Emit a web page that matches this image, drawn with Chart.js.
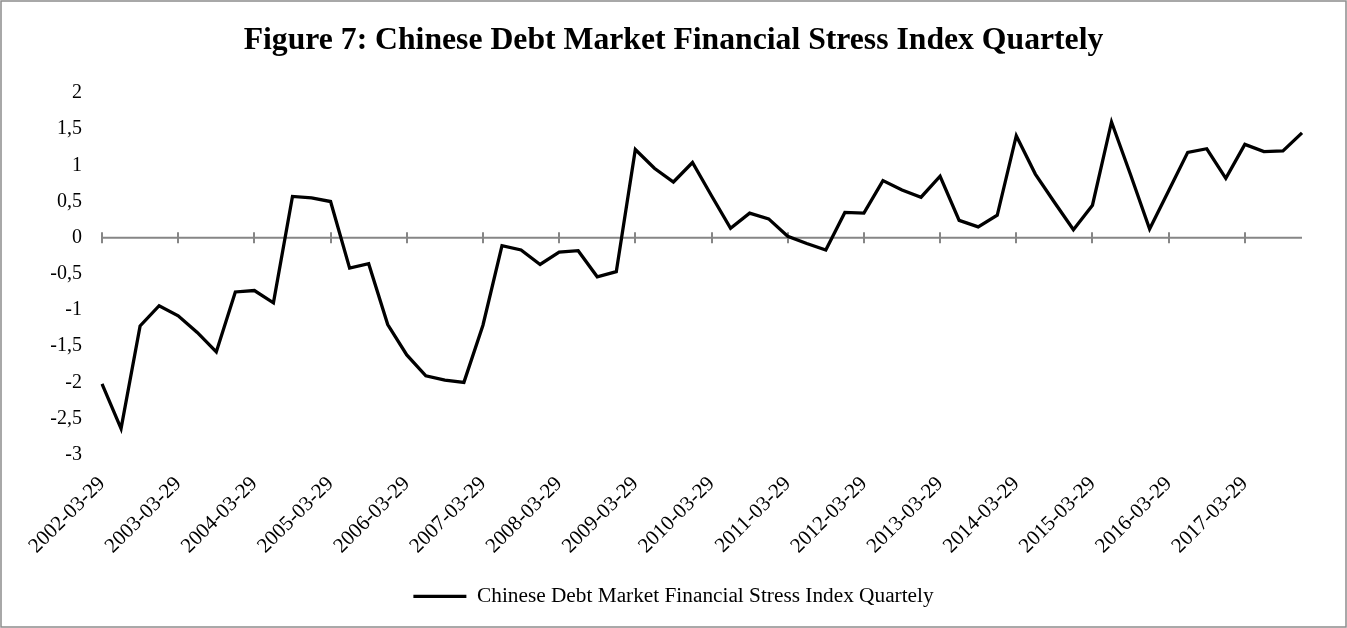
<!DOCTYPE html>
<html>
<head>
<meta charset="utf-8">
<script src="https://cdn.jsdelivr.net/npm/chart.js@4.4.1/dist/chart.umd.min.js"></script>
<style>
  html, body { margin: 0; padding: 0; background: #ffffff; }
  #wrap { width: 1347px; height: 628px; position: relative; }
  canvas { display: block; }
</style>
</head>
<body>
<div id="wrap"><canvas id="chart" width="1347" height="628"></canvas></div>
<script>
// Chart text
const chartTitle = 'Figure 7: Chinese Debt Market Financial Stress Index Quartely';
const seriesName = 'Chinese Debt Market Financial Stress Index Quartely';

// Quarter-end dates, 2002Q1 .. 2017Q4
const years = [2002, 2003, 2004, 2005, 2006, 2007, 2008, 2009,
               2010, 2011, 2012, 2013, 2014, 2015, 2016, 2017];
const quarterMonths = ['03', '06', '09', '12'];
const quarterDates = [];
years.forEach(yr => quarterMonths.forEach(m => quarterDates.push(yr + '-' + m + '-29')));

// Financial stress index, one value per quarter
const stressIndex = [
  -2.02, -2.64, -1.22, -0.94, -1.08, -1.31, -1.58, -0.75, -0.73, -0.90,
   0.57,  0.55,  0.50, -0.42, -0.36, -1.20, -1.62, -1.91, -1.97, -2.00,
  -1.21, -0.11, -0.17, -0.37, -0.20, -0.18, -0.54, -0.47,  1.22,  0.96,
   0.77,  1.04,  0.58,  0.13,  0.34,  0.26,  0.02, -0.08, -0.17,  0.35,
   0.34,  0.79,  0.66,  0.56,  0.85,  0.24,  0.15,  0.31,  1.41,  0.88,
   0.49,  0.11,  0.45,  1.60,  0.87,  0.12,  0.65,  1.18,  1.23,  0.82,
   1.29,  1.19,  1.20,  1.45
];

// Value axis range and step
const yMin = -3;
const yMax = 2;
const yStep = 0.5;
// Every fourth quarter carries a date label
const labelEvery = 4;

const serif = '"Liberation Serif", "Times New Roman", Times, serif';
const axisGrey = '#868686';

// White page with a thin grey frame
const framePlugin = {
  id: 'frame',
  beforeDraw(chart) {
    const { ctx, width, height } = chart;
    ctx.save();
    ctx.fillStyle = '#ffffff';
    ctx.fillRect(0, 0, width, height);
    ctx.strokeStyle = '#8c8c8c';
    ctx.lineWidth = 1.5;
    ctx.strokeRect(1, 1, width - 2, height - 2);
    ctx.restore();
  }
};

// Horizontal axis drawn through zero, with cross ticks at each labelled year
const zeroAxisPlugin = {
  id: 'zeroAxis',
  beforeDatasetsDraw(chart) {
    const { ctx, scales: { x, y } } = chart;
    const y0 = y.getPixelForValue(0);
    ctx.save();
    ctx.strokeStyle = axisGrey;
    ctx.lineWidth = 2;
    ctx.beginPath();
    ctx.moveTo(x.getPixelForValue(0), y0);
    ctx.lineTo(x.getPixelForValue(quarterDates.length - 1), y0);
    for (let i = 0; i < quarterDates.length; i += labelEvery) {
      const px = Math.round(x.getPixelForValue(i));
      ctx.moveTo(px, y0 - 5.5);
      ctx.lineTo(px, y0 + 5.5);
    }
    ctx.stroke();
    ctx.restore();
  }
};

new Chart(document.getElementById('chart'), {
  type: 'line',
  data: {
    labels: quarterDates,
    datasets: [{
      label: seriesName,
      data: stressIndex,
      borderColor: '#000000',
      backgroundColor: '#000000',
      borderWidth: 3.3,
      pointRadius: 0,
      pointHoverRadius: 0,
      tension: 0,
      fill: false
    }]
  },
  options: {
    responsive: false,
    animation: false,
    events: [],
    layout: { padding: { top: 10, right: 45, bottom: 11, left: 45 } },
    plugins: {
      title: {
        display: true,
        text: chartTitle,
        color: '#000000',
        font: { family: serif, size: 31.7, weight: 'bold' },
        padding: { top: 12, bottom: 33 }
      },
      legend: {
        display: true,
        position: 'bottom',
        labels: {
          usePointStyle: true,
          pointStyle: 'line',
          pointStyleWidth: 53,
          color: '#000000',
          font: { family: serif, size: 21.3 },
          padding: 10
        }
      },
      tooltip: { enabled: false }
    },
    scales: {
      x: {
        type: 'category',
        offset: false,
        grid: { display: false, drawTicks: false },
        border: { display: false },
        ticks: {
          autoSkip: false,
          minRotation: 45,
          maxRotation: 45,
          padding: 17,
          color: '#000000',
          font: { family: serif, size: 21 },
          callback: (v, i) => (i % labelEvery === 0 ? quarterDates[i] : '')
        },
        afterFit(scale) { scale.height = 121; }
      },
      y: {
        min: yMin,
        max: yMax,
        grid: { display: false, drawTicks: false },
        border: { display: false },
        ticks: {
          stepSize: yStep,
          padding: 20,
          color: '#000000',
          font: { family: serif, size: 20 },
          callback: v => String(v).replace('.', ',')
        },
        afterFit(scale) { scale.width = 57; }
      }
    }
  },
  plugins: [framePlugin, zeroAxisPlugin]
});
</script>
</body>
</html>
